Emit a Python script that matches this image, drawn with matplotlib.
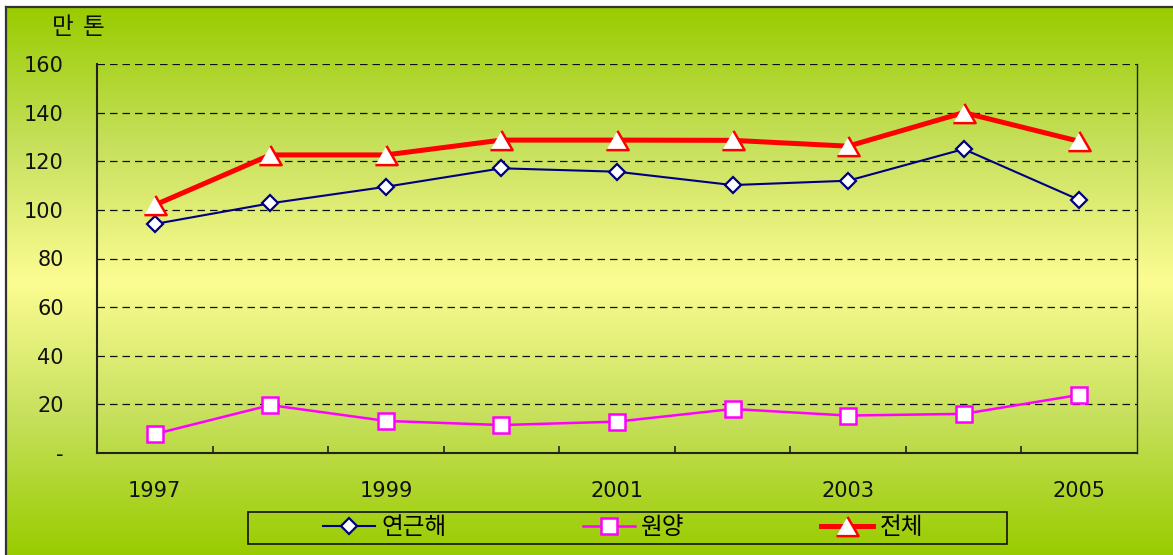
import numpy as np
import matplotlib
matplotlib.use("Agg")
import matplotlib.pyplot as plt
from matplotlib.colors import LinearSegmentedColormap
from matplotlib.patches import Rectangle

plt.rcParams['font.family'] = ['DejaVu Sans', 'Noto Sans CJK KR']

# data (만 톤)
years = [1997, 1998, 1999, 2000, 2001, 2002, 2003, 2004, 2005]
coastal = [94.2, 102.7, 109.5, 117.1, 115.7, 110.2, 112.0, 125.0, 104.1]   # 연근해
distant = [7.8, 19.7, 13.2, 11.5, 12.9, 18.1, 15.4, 16.1, 23.9]         # 원양
total = [102.0, 122.6, 122.6, 128.7, 128.7, 128.6, 126.2, 140.0, 128.2]  # 전체
series_names = ['연근해', '원양', '전체']
ytick_vals = [0, 20, 40, 60, 80, 100, 120, 140, 160]
ytick_labels = ['-', '20', '40', '60', '80', '100', '120', '140', '160']

W, H = 1173, 555
fig = plt.figure(figsize=(W / 100, H / 100), dpi=100)
fig.patch.set_facecolor('white')

# background gradient: green - pale yellow - green
bg = fig.add_axes([6 / W, 0, 1 - 6 / W, 1 - 7 / H], zorder=-10)
cmap = LinearSegmentedColormap.from_list(
    'bg', [(0, '#99cc00'), (0.25, '#c6e05c'), (0.5, '#fcfc92'),
           (0.75, '#c6e05c'), (1, '#99cc00')])
grad = np.linspace(0, 1, 256).reshape(-1, 1)
bg.imshow(grad, cmap=cmap, aspect='auto', extent=[0, 1, 0, 1])
bg.set_axis_off()
# outer border (top and left visible)
fig.add_artist(plt.Line2D([6 / W, 1], [1 - 7 / H, 1 - 7 / H], transform=fig.transFigure,
                          color='#333333', lw=1.6))
fig.add_artist(plt.Line2D([6 / W, 6 / W], [0, 1 - 7 / H], transform=fig.transFigure,
                          color='#333333', lw=1.6))

ax = fig.add_axes([97 / W, 1 - 453 / H, (1137 - 97) / W, (453 - 64) / H])
ax.set_facecolor('none')

x = np.arange(len(years))
tri = [(-1, -0.866), (1, -0.866), (0, 0.866)]
ax.plot(x, coastal, color='#000080', lw=1.5, marker='D', ms=8,
        mfc='white', mec='#000080', mew=1.6, label=series_names[0], zorder=3)
ax.plot(x, distant, color='#ff00ff', lw=1.8, marker='s', ms=11,
        mfc='white', mec='#ff00ff', mew=1.8, label=series_names[1], zorder=3)
ax.plot(x, total, color='#ff0000', lw=3.6, marker=tri, ms=16,
        mfc='white', mec='#ff0000', mew=1.8, label=series_names[2], zorder=4)

ax.set_xlim(-0.5, len(years) - 0.5)
ax.set_ylim(0, 160)
ax.set_yticks(ytick_vals)
ax.set_yticklabels(ytick_labels)
ax.tick_params(axis='y', length=0, pad=24, labelsize=15, colors='#111111')
ax.set_xticks(x)
ax.set_xticklabels([str(y) if i % 2 == 0 else '' for i, y in enumerate(years)])
ax.tick_params(axis='x', which='major', length=0, pad=20, labelsize=15, colors='#111111')
ax.set_xticks(x[:-1] + 0.5, minor=True)
ax.tick_params(axis='x', which='minor', direction='in', length=5, width=1.2, color='#222222')

for v in ytick_vals[1:]:
    ax.axhline(v, color='#111111', lw=0.9, ls=(0, (6, 4)), zorder=1)

ax.spines['top'].set_visible(False)
for s in ['left', 'bottom']:
    ax.spines[s].set_color('#222222')
    ax.spines[s].set_linewidth(1.5)
ax.spines['right'].set_color('#222222')
ax.spines['right'].set_linewidth(1.0)

# unit label
cjk = ['Noto Sans CJK KR', 'DejaVu Sans']
fig.text(63 / W, 1 - 27 / H, '만', ha='center', va='center', fontsize=17,
         family=cjk, color='#111111')
fig.text(94 / W, 1 - 27 / H, '톤', ha='center', va='center', fontsize=17,
         family=cjk, color='#111111')

# legend box
fig.patches.append(Rectangle((248 / W, 1 - 544 / H), (1007 - 248) / W, 32 / H,
                             transform=fig.transFigure, facecolor='none',
                             edgecolor='#111111', lw=1.2))
leg = fig.legend(loc='center', bbox_to_anchor=(623 / W, 1 - 528 / H), ncol=3,
                 frameon=False, handlelength=2.2, handletextpad=0.25,
                 columnspacing=5.8, borderpad=0,
                 prop={'family': cjk, 'size': 17})

fig.savefig('out.png', dpi=100)
